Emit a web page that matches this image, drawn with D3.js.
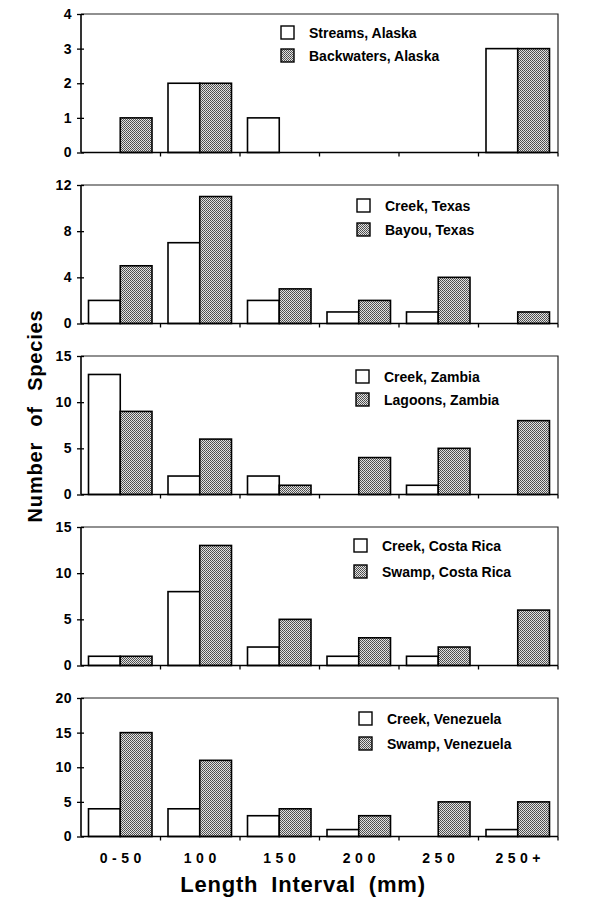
<!DOCTYPE html>
<html>
<head>
<meta charset="utf-8">
<script src="https://cdn.jsdelivr.net/npm/d3@7"></script>
<style>
  body { margin: 0; background: #fff; }
  text { font-family: "Liberation Sans", Arial, sans-serif; font-weight: bold; fill: #000; }
</style>
</head>
<body>
<svg id="chart" width="596" height="899"></svg>
<script>
// Fish species counts by length interval, five paired habitats
const categories = ['0-50', '100', '150', '200', '250', '250+'];

const sites = ['Alaska', 'Texas', 'Zambia', 'Costa Rica', 'Venezuela'];
const openLabels = ['Streams, Alaska', 'Creek, Texas', 'Creek, Zambia', 'Creek, Costa Rica', 'Creek, Venezuela'];
const shadedLabels = ['Backwaters, Alaska', 'Bayou, Texas', 'Lagoons, Zambia', 'Swamp, Costa Rica', 'Swamp, Venezuela'];

const openValues = [
    [0, 2, 1, 0, 0, 3],
    [2, 7, 2, 1, 1, 0],
    [13, 2, 2, 0, 1, 0],
    [1, 8, 2, 1, 1, 0],
    [4, 4, 3, 1, 0, 1]
];
const shadedValues = [
    [1, 2, 0, 0, 0, 3],
    [5, 11, 3, 2, 4, 1],
    [9, 6, 1, 4, 5, 8],
    [1, 13, 5, 3, 2, 6],
    [15, 11, 4, 3, 5, 5]
];

const yMax = [4, 12, 15, 15, 20];
const yTicks = [
    [0, 1, 2, 3, 4],
    [0, 4, 8, 12],
    [0, 5, 10, 15],
    [0, 5, 10, 15],
    [0, 5, 10, 15, 20]
];

const svg = d3.select('#chart');

// Layout constants
const plotLeft = 81;
const plotRight = 558;
const panelTop0 = 14;
const panelStep = 171;
const panelHeight = 138.5;
// legend box x and row offsets per panel
const legendX = [281, 357, 356, 354, 359];
const legendRow1 = [12, 14, 14, 12, 14];
const legendRow2 = [35, 38, 37, 38, 39];

// dithered grey fill like the old laser print
const defs = svg.append('defs');
const pat = defs.append('pattern')
    .attr('id', 'dither')
    .attr('width', 2)
    .attr('height', 2)
    .attr('patternUnits', 'userSpaceOnUse');
pat.append('rect').attr('width', 2).attr('height', 2).attr('fill', '#e2e2e2');
pat.append('rect').attr('width', 1).attr('height', 1).attr('fill', '#4a4a4a');
pat.append('rect').attr('x', 1).attr('y', 1).attr('width', 1).attr('height', 1).attr('fill', '#5a5a5a');

const x = d3.scaleBand()
    .domain(categories)
    .range([plotLeft, plotRight]);

const bw = x.bandwidth();
const xSeries = d3.scaleBand()
    .domain(['open', 'shaded'])
    .range([7.5, bw - 8.5]);

sites.forEach((site, i) => {
    const top = panelTop0 + i * panelStep;
    const base = top + panelHeight;
    const g = svg.append('g').attr('class', 'panel');

    const y = d3.scaleLinear()
        .domain([0, yMax[i]])
        .range([base, top]);

    // frame (top and right)
    g.append('path')
        .attr('d', `M${plotLeft},${top}H${plotRight}V${base}`)
        .attr('fill', 'none')
        .attr('stroke', '#222')
        .attr('stroke-width', 1.2);

    // bars
    const rows = categories.map((c, j) => ({ c, open: openValues[i][j], shaded: shadedValues[i][j] }));
    ['open', 'shaded'].forEach(key => {
        g.selectAll('rect.' + key)
            .data(rows.filter(d => d[key] > 0))
            .join('rect')
            .attr('class', key)
            .attr('x', d => x(d.c) + xSeries(key))
            .attr('y', d => y(d[key]))
            .attr('width', xSeries.bandwidth())
            .attr('height', d => base - y(d[key]))
            .attr('fill', key === 'open' ? '#fff' : 'url(#dither)')
            .attr('stroke', '#000')
            .attr('stroke-width', 1.6);
    });

    // y axis
    const yAxis = g.append('g')
        .attr('transform', `translate(${plotLeft},0)`)
        .call(d3.axisLeft(y).tickValues(yTicks[i]).tickFormat(d3.format('d')).tickSize(4).tickPadding(5));
    yAxis.select('.domain').attr('stroke', '#000').attr('stroke-width', 1.6).attr('d', `M0,${top}V${base}`);
    yAxis.selectAll('.tick line').attr('stroke', '#000').attr('stroke-width', 1.3).attr('x1', 3);
    yAxis.selectAll('.tick text')
        .attr('font-size', 14)
        .attr('font-family', '"Liberation Sans", Arial, sans-serif')
        .attr('font-weight', 'bold')
        .attr('letter-spacing', 0.5);

    // x axis: ticks at band boundaries
    const xAxisG = g.append('g').attr('transform', `translate(0,${base})`);
    xAxisG.append('line')
        .attr('x1', plotLeft).attr('x2', plotRight)
        .attr('stroke', '#000').attr('stroke-width', 1.6);
    xAxisG.selectAll('line.tk')
        .data(categories.slice(1).concat(['end']))
        .join('line')
        .attr('class', 'tk')
        .attr('x1', d => d === 'end' ? plotRight : x(d))
        .attr('x2', d => d === 'end' ? plotRight : x(d))
        .attr('y1', 0)
        .attr('y2', 4)
        .attr('stroke', '#000')
        .attr('stroke-width', 1.3);

    // legend
    const lg = g.append('g');
    [[openLabels[i], '#fff', legendRow1[i]], [shadedLabels[i], 'url(#dither)', legendRow2[i]]].forEach(([label, fill, dy]) => {
        lg.append('rect')
            .attr('x', legendX[i])
            .attr('y', top + dy)
            .attr('width', 13)
            .attr('height', 13)
            .attr('fill', fill)
            .attr('stroke', '#000')
            .attr('stroke-width', 1.4);
        lg.append('text')
            .attr('x', legendX[i] + 28)
            .attr('y', top + dy + 12)
            .attr('font-size', 14)
            .text(label);
    });

    // category labels under the last panel
    if (i === sites.length - 1) {
        xAxisG.selectAll('text.cat')
            .data(categories)
            .join('text')
            .attr('class', 'cat')
            .attr('x', d => x(d) + bw / 2 + 2)
            .attr('y', 26)
            .attr('text-anchor', 'middle')
            .attr('font-size', 14)
            .attr('letter-spacing', 4.5)
            .text(d => d);
    }
});

// axis titles
svg.append('text')
    .attr('x', 303)
    .attr('y', 892)
    .attr('text-anchor', 'middle')
    .attr('font-size', 22)
    .attr('letter-spacing', 0.8)
    .attr('word-spacing', 6)
    .text('Length Interval (mm)');

svg.append('text')
    .attr('transform', 'translate(42,416) rotate(-90)')
    .attr('text-anchor', 'middle')
    .attr('font-size', 20)
    .attr('letter-spacing', 0.8)
    .attr('word-spacing', 9)
    .text('Number of Species');
</script>
</body>
</html>
